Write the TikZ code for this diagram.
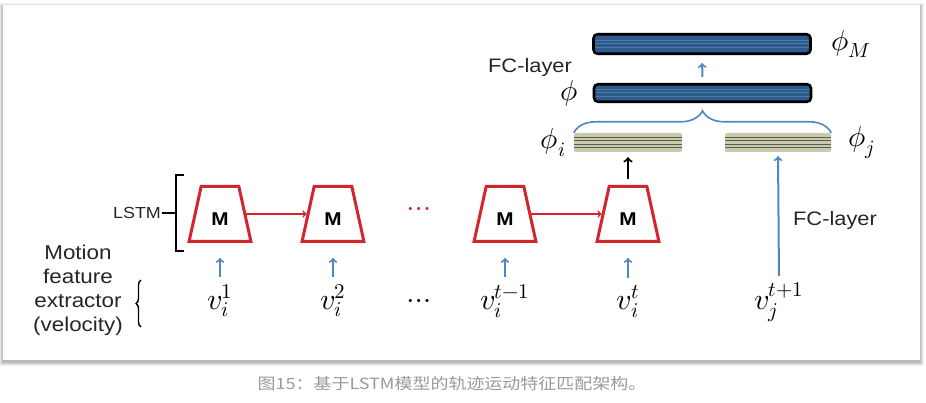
\documentclass[tikz,border=0pt]{standalone}
\usepackage{fontspec}
\usepackage{unicode-math}
\setmathfont{Latin Modern Math}
\newfontfamily\lblfont{Liberation Sans}[FakeStretch=1.12]
\newfontfamily\capfont{Noto Sans CJK SC}[FakeStretch=1.16]
\usetikzlibrary{positioning,shapes.geometric,decorations.pathreplacing}
\definecolor{lstmred}{HTML}{D2262C}
\definecolor{arrowblue}{HTML}{4F86C4}
\definecolor{barblue}{HTML}{2D5B8C}
\definecolor{stripeblue}{HTML}{4C7AAA}
\definecolor{bargreen}{HTML}{C8CAAA}
\definecolor{capgray}{HTML}{9A9A9A}

\begin{document}
\begin{tikzpicture}[x=1pt, y=-1pt,
	cell/.style={trapezium, trapezium angle=77, trapezium stretches=true, draw=lstmred, line width=3pt, fill=white, minimum width=62pt, minimum height=55pt, inner sep=0pt, text height=24pt, font=\lblfont\bfseries\fontsize{18.5}{18.5}\selectfont},
	feat/.style={rounded corners=2pt, fill=bargreen, minimum width=108pt, minimum height=19pt, inner sep=0pt,
		path picture={\foreach \d in {-5,-1.5,2,5.5} \draw[black!65, line width=0.9pt] ([yshift=\d pt]path picture bounding box.west) -- ([yshift=\d pt]path picture bounding box.east);}},
	fcbar/.style={draw=black, line width=2.6pt, rounded corners=4pt, fill=barblue, minimum width=217pt, inner sep=0pt,
		path picture={\foreach \d in {-3,0.5,3.5} \draw[stripeblue, line width=0.8pt] ([yshift=\d pt]path picture bounding box.west) -- ([yshift=\d pt]path picture bounding box.east);}},
	mathlbl/.style={font=\fontsize{30}{36}\selectfont, inner sep=1pt},
	philbl/.style={font=\fontsize{29}{34}\selectfont, inner sep=1pt},
	txt/.style={font=\lblfont\fontsize{19.5}{24}\selectfont, text=black!85, inner sep=1pt},
	inarrow/.style={->, draw=arrowblue, line width=2pt},
	rnn/.style={->, draw=lstmred, line width=1.6pt}]
	% card
	\useasboundingbox (0,0) rectangle (926,403);
	\fill[white] (0,0) rectangle (926,403);
	\foreach \s in {0,...,5} \fill[black, opacity=0.05] (3-0.8*\s, 7-0.8*\s) rectangle (920+0.8*\s, 362+0.8*\s);
	\fill[white] (3,5) rectangle (920,360);

	\node[cell] (M1) at (220,214) {M};
	\node[cell] (M2) at (333,214) {M};
	\node[cell] (M3) at (505,214) {M};
	\node[cell] (M4) at (628,214) {M};
	\node[mathlbl, text=lstmred] (rdots) at (419,212) {$\cdots$};
	\draw[rnn] (M1.east) -- (M2.west);
	\draw[rnn] (M3.east) -- (M4.west);

	\node[mathlbl, anchor=base] (v1) at (220,309) {$v_i^1$};
	\node[mathlbl, anchor=base] (v2) at (333,309) {$v_i^2$};
	\node[mathlbl, anchor=base] (v3) at (505,309) {$v_i^{t-1}$};
	\node[mathlbl, anchor=base] (v4) at (628,309) {$v_i^t$};
	\node[mathlbl, anchor=base] (vj) at (779,309) {$v_j^{t+1}$};
	\node[mathlbl] (bdots) at (419,304) {$\cdots$};
	\foreach \i in {1,...,4}
		\draw[inarrow, shorten <=6pt, shorten >=15pt] (v\i.north) -- (M\i.south);

	\node[feat] (phii) at (628,142.5) {};
	\node[feat, minimum width=106pt] (phij) at (778,142.5) {};
	\node[fcbar, minimum height=17.5pt] (phi) at (702.5,93) {};
	\node[fcbar, minimum height=19.5pt] (phiM) at (702,44) {};
	\node[philbl, left=7pt of phii] (lphii) {$\phi_i$};
	\node[philbl, right=16pt of phij] (lphij) {$\phi_j$};
	\node[philbl, left=14pt of phi] (lphi) {$\phi$};
	\node[philbl, right=18pt of phiM] (lphiM) {$\phi_M$};

	\draw[->, line width=2.2pt, shorten <=6pt, shorten >=5pt] (M4.north) -- (phii.south);
	\draw[inarrow, shorten <=6pt, shorten >=4pt] (vj.north) -- (phij.south);
	\draw[inarrow, shorten <=6pt, shorten >=8pt] (phi.north) -- (phiM.south);
	\draw[arrowblue, line width=1.6pt, decorate, decoration={brace, amplitude=22pt}] (phii.north west) -- (phij.north east);

	\node[txt] (fctop) at (530,67) {FC-layer};
	\node[txt] (fcright) at (835,220) {FC-layer};

	% left side labels
	\node[txt, font=\lblfont\fontsize{16}{16}\selectfont] (lstm) at (137,213) {LSTM};
	\draw[line width=1.4pt] (184,175) -- (176,175) -- (176,251) -- (184,251);
	\draw[line width=1.4pt] (176,213) -- (lstm.east);
	\node[txt, align=center, font=\lblfont\fontsize{20}{24}\selectfont] (mfe) at (78,290) {Motion\\feature\\extractor\\(velocity)};
	\draw[line width=1.4pt, decorate, decoration={brace, amplitude=5pt}] (141,327) -- (141,280);

	\node[font=\capfont\fontsize{15.5}{18}\selectfont, text=capgray] (cap) at (452,384) {图15：基于LSTM模型的轨迹运动特征匹配架构。};
\end{tikzpicture}
\end{document}
